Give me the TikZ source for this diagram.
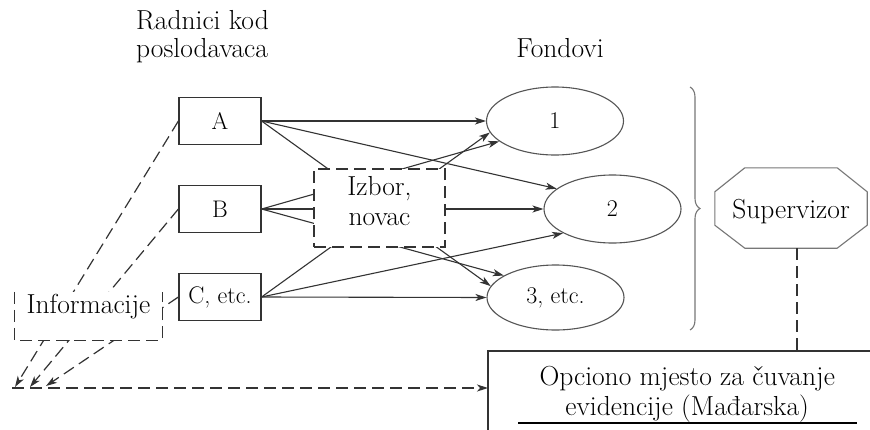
\documentclass[tikz,border=0pt]{standalone}
\usetikzlibrary{arrows.meta,calc,decorations.pathreplacing,shapes.geometric}
\definecolor{lineC}{HTML}{333333}
\definecolor{shapeC}{HTML}{555555}
\definecolor{octC}{HTML}{777777}
\begin{document}
\begin{tikzpicture}[x=1pt,y=-1pt,
  big/.style={font=\fontsize{27.5}{30}\selectfont},
  lab/.style={font=\fontsize{24}{28}\selectfont},
  emp/.style={draw=lineC, line width=1.2pt, minimum width=82pt, minimum height=47pt, inner sep=0pt, lab},
  fund/.style={ellipse, draw=shapeC, line width=1.1pt, minimum width=137pt, minimum height=68pt, inner sep=0pt, lab},
  flow/.style={draw=lineC, line width=1.1pt, -{Stealth[length=11pt,width=7pt,inset=3pt]}},
  dline/.style={draw=lineC, line width=1.2pt, dash pattern=on 12pt off 6pt},
  darrow/.style={dline, -{Stealth[length=11pt,width=7pt,inset=3pt]}},
  bracestyle/.style={draw=octC, line width=1.1pt, decorate, decoration={brace, amplitude=10pt}},
]
\useasboundingbox (0,0) rectangle (870,429);
\fill[white] (0,0) rectangle (870,429);
\clip (0,0) rectangle (870,429);

% titles
\node[anchor=north west, inner sep=0pt, align=left, font=\fontsize{27.5}{28}\selectfont] (title) at (136,10) {Radnici kod\\poslodavaca};
\node[big, anchor=base, inner sep=0pt] (fond) at (560,57) {Fondovi};

% employers
\node[emp] (a) at (220,121) {A};
\node[emp] (b) at (220,209) {B};
\node[emp] (c) at (220,297) {C, etc.};

% funds
\node[fund] (e1) at (555,121) {1};
\node[fund] (e2) at (612.5,209) {2};
\node[fund, minimum height=65pt] (e3) at (555.5,297.5) {3, etc.};

% flows
\draw[flow] (a.east) -- (e1.west);
\draw[flow] (a.east) -- (e2.160);
\draw[flow] (a.east) -- (e3.170);
\draw[flow] (b.east) -- (e1.200);
\draw[flow] (b.east) -- (e2.west);
\draw[flow] (b.east) -- (e3.157);
\draw[flow] (c.east) -- (e1.190);
\draw[flow] (c.east) -- (e2.206);
\draw[flow] (c.east) -- (e3.west);

% choice box
\node[big, draw=lineC, line width=1.2pt, dash pattern=on 12pt off 6pt, fill=white,
      minimum width=131pt, minimum height=78pt, inner sep=0pt, align=center] (izbor) at (379.5,208)
      {Izbor,\\novac\rule[-15pt]{0pt}{15pt}};

% storage box
\node[big, minimum width=398pt, minimum height=86pt, inner sep=0pt, align=center, anchor=north west] (store) at (488,351)
      {Opciono mjesto za čuvanje\\evidencije (Mađarska)};
\draw[draw=lineC, line width=1.2pt] (store.south west) -- (store.north west) -- (store.north east);
\draw[black, line width=1.3pt] (518,423) -- (857,423);

% information arrows
\coordinate (t1) at (15,387);
\coordinate (t2) at (30,387);
\coordinate (t3) at (46,386);
\coordinate (t0) at (12,388);
\draw[darrow] (a.west) -- (t1);
\draw[darrow] (b.west) -- (t2);
\draw[darrow] (c.west) -- (t3);
\draw[darrow] (t0) -- (t0 -| store.west);

\node[big, fill=white, minimum width=147pt, minimum height=48pt, inner sep=0pt] (info) at (88.5,316)
      {Informacije\rule[-25pt]{0pt}{25pt}};
\draw[dline] (info.north west) -- (info.south west) -- (info.south east) -- (info.north east);

% brace
\draw[bracestyle] (690,87) -- (690,330);

% supervisor
\node[big, minimum width=152pt, minimum height=80pt, inner sep=0pt] (sup) at (791,208) {Supervizor\rule{0pt}{26pt}};
\draw[draw=octC, line width=1.1pt]
  ($(sup.north west)+(0,24)$) -- ($(sup.north west)+(30,0)$) -- ($(sup.north east)+(-30,0)$) --
  ($(sup.north east)+(0,24)$) -- ($(sup.south east)+(0,-23)$) -- ($(sup.south east)+(-30,0)$) --
  ($(sup.south west)+(30,0)$) -- ($(sup.south west)+(0,-23)$) -- cycle;
\coordinate (sd) at ($(sup.south)+(6,0)$);
\draw[dline] (sd) -- (sd |- store.north);
\end{tikzpicture}
\end{document}
